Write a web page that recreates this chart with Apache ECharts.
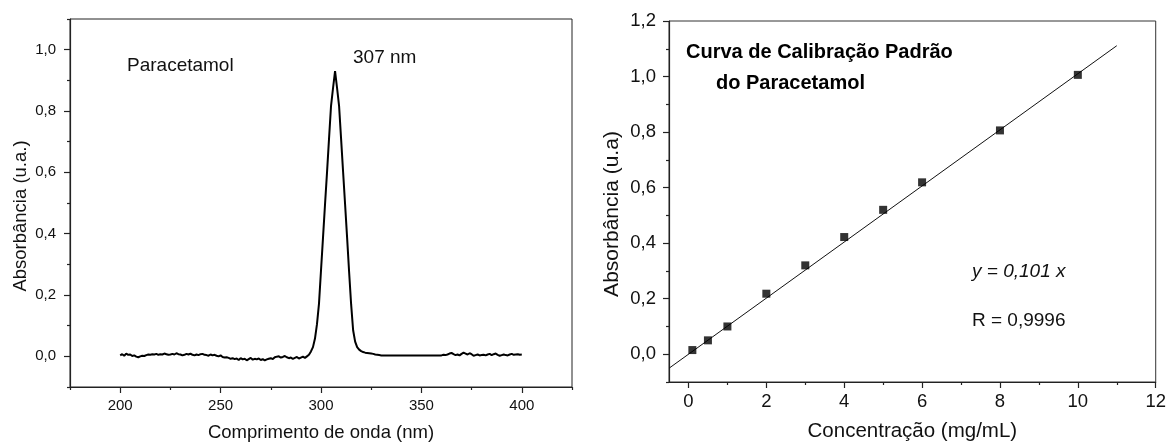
<!DOCTYPE html>
<html>
<head>
<meta charset="utf-8">
<script src="https://cdn.jsdelivr.net/npm/echarts@6/dist/echarts.min.js"></script>
<style>
  html, body { margin: 0; padding: 0; background: #fff; }
  #chart { width: 1169px; height: 447px; }
</style>
</head>
<body>
<div id="chart"></div>
<script>
// UV-Vis spectrum of paracetamol, sampled every 1 nm from 200 nm to 400 nm
const spectrumStartNm = 200;
const spectrumStepNm = 1;
const absorbance = [
  // 200-209
  0.003, 0.007, 0.002, 0.009, 0.005, 0.006, 0.001, 0.003, -0.001, -0.003,
  // 210-219
  0.000, 0.002, 0.001, 0.004, 0.006, 0.005, 0.007, 0.006, 0.008, 0.005,
  // 220-229
  0.007, 0.006, 0.009, 0.007, 0.005, 0.006, 0.008, 0.006, 0.010, 0.007,
  // 230-239
  0.006, 0.003, 0.005, 0.008, 0.006, 0.009, 0.005, 0.003, 0.006, 0.004,
  // 240-249
  0.007, 0.008, 0.005, 0.004, 0.002, 0.006, 0.003, 0.005, 0.002, 0.000,
  // 250-259
  0.003, -0.002, -0.004, -0.003, -0.005, -0.008, -0.006, -0.009, -0.007, -0.012,
  // 260-269
  -0.006, -0.010, -0.008, -0.013, -0.009, -0.005, -0.011, -0.008, -0.010, -0.007,
  // 270-279
  -0.012, -0.009, -0.013, -0.010, -0.008, -0.006, -0.009, -0.003, -0.001, 0.000,
  // 280-289
  -0.004, -0.002, 0.001, -0.003, -0.006, -0.004, -0.008, -0.005, -0.002, -0.007,
  // 290-299
  -0.004, -0.001, -0.005, 0.000, 0.005, 0.016, 0.030, 0.058, 0.105, 0.172,
  // 300-309
  0.280, 0.387, 0.495, 0.600, 0.710, 0.817, 0.875, 0.930, 0.875, 0.817,
  // 310-319
  0.710, 0.602, 0.495, 0.387, 0.275, 0.170, 0.085, 0.048, 0.030, 0.022,
  // 320-329
  0.017, 0.014, 0.012, 0.011, 0.010, 0.009, 0.008, 0.006, 0.005, 0.004,
  // 330-339
  0.003, 0.003, 0.003, 0.003, 0.003, 0.003, 0.003, 0.003, 0.003, 0.003,
  // 340-349
  0.003, 0.003, 0.003, 0.003, 0.003, 0.003, 0.003, 0.003, 0.003, 0.003,
  // 350-359
  0.003, 0.003, 0.003, 0.003, 0.003, 0.003, 0.003, 0.003, 0.003, 0.003,
  // 360-369
  0.003, 0.005, 0.004, 0.006, 0.009, 0.011, 0.007, 0.004, 0.006, 0.003,
  // 370-379
  0.008, 0.012, 0.009, 0.006, 0.010, 0.007, 0.002, 0.004, 0.006, 0.003,
  // 380-389
  0.004, 0.005, 0.003, 0.006, 0.008, 0.004, 0.007, 0.009, 0.005, 0.002,
  // 390-399
  0.004, 0.006, 0.004, 0.003, 0.006, 0.008, 0.005, 0.006, 0.007, 0.005,
  // 400
  0.006
];

// Calibration standards
const concentration = [0.1, 0.5, 1, 2, 3, 4, 5, 6, 8, 10];
const standardAbsorbance = [0.015, 0.050, 0.100, 0.218, 0.320, 0.422, 0.520, 0.619, 0.806, 1.006];

// Linear fit through the origin
const fitSlope = 0.101;
const fitRange = [-0.5, 11];

// Axis ticks
const spectrumXTicks = [200, 250, 300, 350, 400];
const spectrumXMinor = [175, 225, 275, 325, 375, 425];
const spectrumYTicks = [0, 0.2, 0.4, 0.6, 0.8, 1.0];
const spectrumYMinor = [-0.1, 0.1, 0.3, 0.5, 0.7, 0.9, 1.1];
const calibXTicks = [0, 2, 4, 6, 8, 10, 12];
const calibXMinor = [1, 3, 5, 7, 9, 11];
const calibYTicks = [0, 0.2, 0.4, 0.6, 0.8, 1.0, 1.2];
const calibYMinor = [-0.1, 0.1, 0.3, 0.5, 0.7, 0.9, 1.1];

const spectrumPoints = absorbance.map((a, i) => [spectrumStartNm + i * spectrumStepNm, a]);
const standardPoints = concentration.map((c, i) => [c, standardAbsorbance[i]]);
const fitPoints = fitRange.map(x => [x, fitSlope * x]);

const FONT = '"Liberation Sans", Arial, sans-serif';
const AXIS_COLOR = '#222';
const TEXT_COLOR = '#111';
const comma = v => v.toFixed(1).replace('.', ',');

function mainAxis(kind, gridIndex, min, max, ticks, fmt, o) {
  const ax = {
    type: 'value', gridIndex, min, max,
    position: kind === 'x' ? 'bottom' : 'left',
    splitLine: { show: false },
    axisLine: { show: true, onZero: false, lineStyle: { color: AXIS_COLOR, width: 1.2 } },
    axisTick: { show: true, inside: false, length: 6, customValues: ticks,
                lineStyle: { color: AXIS_COLOR, width: 1.2 } },
    axisLabel: { show: true, customValues: ticks, formatter: fmt, margin: o.margin,
                 color: TEXT_COLOR, fontFamily: FONT, fontSize: o.fontSize },
    name: o.name, nameLocation: 'middle', nameGap: o.nameGap,
    nameTextStyle: { color: TEXT_COLOR, fontFamily: FONT, fontSize: o.nameSize,
                     padding: o.namePadding || 0 }
  };
  if (kind === 'y') ax.nameRotate = 90;
  return ax;
}

function minorAxis(kind, gridIndex, min, max, ticks) {
  return {
    type: 'value', gridIndex, min, max,
    position: kind === 'x' ? 'bottom' : 'left',
    offset: 0,
    splitLine: { show: false },
    axisLine: { show: false, onZero: false },
    axisLabel: { show: false },
    axisTick: { show: true, inside: false, length: 3, customValues: ticks,
                lineStyle: { color: AXIS_COLOR, width: 1.2 } }
  };
}

const option = {
  backgroundColor: '#fff',
  animation: false,
  grid: [
    { left: 70, top: 19, width: 502, height: 372, show: true,
      borderColor: AXIS_COLOR, borderWidth: 1, backgroundColor: 'transparent' },
    { left: 669, top: 21, width: 487, height: 361, show: true,
      borderColor: '#333', borderWidth: 1, backgroundColor: 'transparent' }
  ],
  xAxis: [
    mainAxis('x', 0, 175, 425, spectrumXTicks, v => String(v),
      { margin: 11, fontSize: 15, name: 'Comprimento de onda (nm)', nameGap: 36, nameSize: 18.5 }),
    minorAxis('x', 0, 175, 425, spectrumXMinor),
    mainAxis('x', 1, -0.5, 12, calibXTicks, v => String(v),
      { margin: 10, fontSize: 18.5, name: 'Concentração (mg/mL)', nameGap: 39, nameSize: 20.5 }),
    minorAxis('x', 1, -0.5, 12, calibXMinor)
  ],
  yAxis: [
    mainAxis('y', 0, -0.1, 1.1, spectrumYTicks, comma,
      { margin: 14, fontSize: 15, name: 'Absorbância (u.a.)', nameGap: 40, nameSize: 18.5,
        namePadding: [0, 26, 0, 0] }),
    minorAxis('y', 0, -0.1, 1.1, spectrumYMinor),
    mainAxis('y', 1, -0.1, 1.2, calibYTicks, comma,
      { margin: 13, fontSize: 18.5, name: 'Absorbância (u.a)', nameGap: 46, nameSize: 21,
        namePadding: [0, 25, 0, 0] }),
    minorAxis('y', 1, -0.1, 1.2, calibYMinor)
  ],
  series: [
    {
      name: 'Paracetamol', type: 'line', xAxisIndex: 0, yAxisIndex: 0,
      data: spectrumPoints, showSymbol: false, symbol: 'none',
      lineStyle: { color: '#000', width: 2 }, clip: true
    },
    {
      name: 'Ajuste linear', type: 'line', xAxisIndex: 2, yAxisIndex: 2,
      data: fitPoints, showSymbol: false, symbol: 'none',
      lineStyle: { color: '#111', width: 1 }, clip: true, z: 2
    },
    {
      name: 'Padrões', type: 'scatter', xAxisIndex: 2, yAxisIndex: 2,
      data: standardPoints, symbol: 'rect', symbolSize: 8,
      itemStyle: { color: '#000' }, z: 3
    }
  ],
  graphic: [
    { type: 'text', x: 127, y: 66,
      style: { text: 'Paracetamol', fill: TEXT_COLOR, font: '19px ' + FONT,
               textAlign: 'left', textVerticalAlign: 'middle' } },
    { type: 'text', x: 353, y: 58,
      style: { text: '307 nm', fill: TEXT_COLOR, font: '19px ' + FONT,
               textAlign: 'left', textVerticalAlign: 'middle' } },
    { type: 'text', x: 686, y: 52,
      style: { text: 'Curva de Calibração Padrão', fill: '#000', font: 'bold 20px ' + FONT,
               textAlign: 'left', textVerticalAlign: 'middle' } },
    { type: 'text', x: 716, y: 83,
      style: { text: 'do Paracetamol', fill: '#000', font: 'bold 20px ' + FONT,
               textAlign: 'left', textVerticalAlign: 'middle' } },
    { type: 'text', x: 972, y: 272,
      style: { text: 'y = 0,101 x', fill: TEXT_COLOR, font: 'italic 19px ' + FONT,
               textAlign: 'left', textVerticalAlign: 'middle' } },
    { type: 'text', x: 972, y: 321,
      style: { text: 'R = 0,9996', fill: TEXT_COLOR, font: '19px ' + FONT,
               textAlign: 'left', textVerticalAlign: 'middle' } }
  ]
};

const chart = echarts.init(document.getElementById('chart'), null, { renderer: 'canvas' });
chart.setOption(option);
</script>
</body>
</html>
